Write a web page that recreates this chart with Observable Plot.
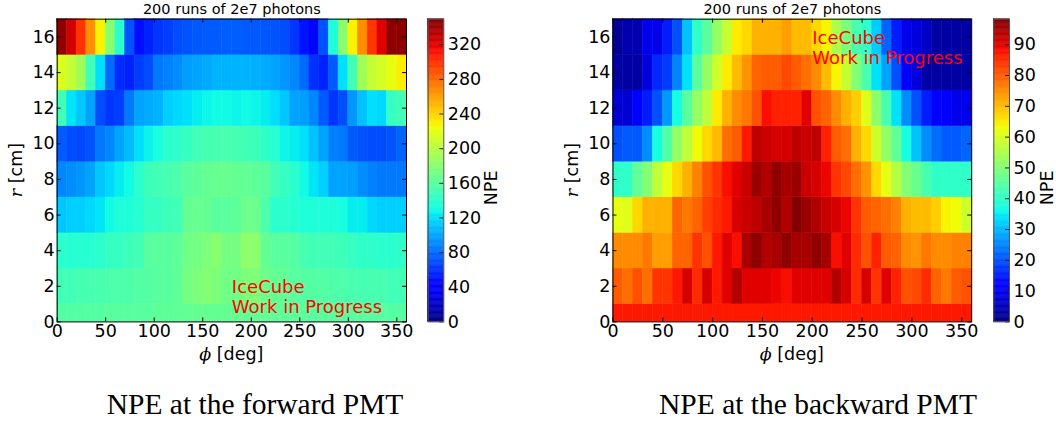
<!DOCTYPE html>
<html>
<head>
<meta charset="utf-8">
<script src="https://cdn.jsdelivr.net/npm/d3@7"></script>
<script src="https://cdn.jsdelivr.net/npm/@observablehq/plot@0.6"></script>
<style>
  html, body { margin: 0; padding: 0; background: #fff; }
  #root { position: relative; width: 1056px; height: 425px; overflow: hidden; }
  #root > svg, #root > div { position: absolute; }
  .cap { font-family: "Liberation Serif", "Times New Roman", serif; font-size: 29.5px; color: #000; white-space: nowrap; text-align: center; }
</style>
</head>
<body>
<div id="root"></div>
<script>
// ---------------- data ----------------
const phiBins = d3.range(0, 360, 10);            // lower edge of each 10-degree phi bin
const rEdges = [0, 1, 3, 5, 7, 9, 11, 13, 15, 17]; // r bin edges [cm]
const xTicks = [0, 50, 100, 150, 200, 250, 300, 350];
const yTicks = [0, 2, 4, 6, 8, 10, 12, 14, 16];
const fwdTicks = [0, 40, 80, 120, 160, 200, 240, 280, 320];
const bwdTicks = [0, 10, 20, 30, 40, 50, 60, 70, 80, 90];
const fwdMax = 349.5;
const bwdMax = 98.3;

// forward PMT NPE, rows from r=0-1 up to r=15-17, 36 phi bins each
const fwdR0 = [158,158,158,158,158,160,160,160,160,160,162,162,163,164,165,165,165,165,165,165,165,164,163,162,162,161,160,160,160,160,160,160,159,159,158,158];
const fwdR1 = [150,150,152,152,152,155,155,155,157,158,160,160,162,172,175,178,175,170,170,175,176,168,165,163,160,158,158,157,156,155,153,152,152,152,150,150];
const fwdR2 = [140,138,138,138,140,145,145,148,150,160,160,160,162,170,172,175,180,172,172,182,182,165,160,160,158,152,150,150,150,148,145,142,142,140,140,142];
const fwdR3 = [112,115,115,118,122,130,135,135,138,145,145,148,150,165,166,165,160,160,162,168,168,155,140,140,138,135,135,135,135,132,125,125,118,115,115,115];
const fwdR4 = [90,92,95,100,112,118,125,130,140,148,150,152,155,160,162,165,166,166,165,164,162,160,150,145,140,130,122,115,100,100,98,92,88,85,85,85];
const fwdR5 = [75,70,68,72,85,90,100,108,120,127,132,140,142,145,150,152,152,153,152,150,148,142,138,128,125,120,110,100,88,85,75,72,70,70,72,78];
const fwdR6 = [150,122,112,100,70,62,65,85,100,102,105,115,118,120,125,128,130,130,128,130,128,125,120,112,100,98,90,75,62,70,95,110,120,118,145,150];
const fwdR7 = [215,205,190,150,120,80,58,55,65,70,85,88,92,98,100,102,105,105,105,105,104,102,100,95,90,80,60,55,75,120,150,190,205,212,220,230];
const fwdR8 = [345,325,300,265,228,180,140,72,48,55,62,65,70,72,74,75,75,76,76,75,74,73,72,70,62,50,45,72,135,180,228,265,298,320,345,345];

// backward PMT NPE
const bwdR0 = [87,87,87,87,87,87,87,87,87,87,87,87,87,87,87,87,87,87,87,87,87,87,87,87,87,87,87,87,87,87,87,87,87,87,87,87];
const bwdR1 = [80,78,81,78,84,84,87,91,85,91,87,90,94,90,90,90,89,88,90,90,90,90,94,91,85,91,84,90,86,81,82,85,79,77,80,81];
const bwdR2 = [75,75,75,77,73,73,79,79,84,81,87,90,88,95,97,94,95,97,95,95,97,95,88,90,85,81,86,80,79,75,74,77,75,75,76,76];
const bwdR3 = [62,61,67,71,71,71,79,77,79,83,85,87,91,92,93,95,97,94,98,96,94,92,91,89,84,80,79,78,76,71,70,70,68,64,63,59];
const bwdR4 = [40,40,46,50,57,62,67,71,76,81,84,88,90,92,96,94,97,95,96,92,91,89,84,82,78,74,67,62,56,50,47,43,40,40,40,40];
const bwdR5 = [20,21,21,26,37,44,52,57,63,67,70,78,80,87,93,92,91,91,93,92,93,86,80,78,71,67,59,52,46,37,31,26,23,21,21,22];
const bwdR6 = [7,7,11,15,20,27,37,45,52,57,65,71,75,77,81,88,86,86,86,90,81,79,75,71,68,61,51,43,34,26,20,15,11,11,9,9];
const bwdR7 = [3,3,3,8,16,18,25,34,45,52,59,65,70,74,79,80,80,82,80,78,75,70,64,58,50,43,34,28,20,12,8,3,3,3,3,3];
const bwdR8 = [2,4,4,9,9,15,20,31,40,45,52,58,65,67,71,71,71,73,70,70,67,64,55,49,43,40,32,22,15,9,8,6,3,3,3,3];

const fwdRows = [fwdR0, fwdR1, fwdR2, fwdR3, fwdR4, fwdR5, fwdR6, fwdR7, fwdR8];
const bwdRows = [bwdR0, bwdR1, bwdR2, bwdR3, bwdR4, bwdR5, bwdR6, bwdR7, bwdR8];

// ---------------- helpers ----------------
function seg(t, pts) {
  if (t <= pts[0][0]) return pts[0][1];
  for (let i = 1; i < pts.length; i++) {
    if (t <= pts[i][0]) {
      const [x0, y0] = pts[i - 1], [x1, y1] = pts[i];
      return y0 + (y1 - y0) * (t - x0) / (x1 - x0);
    }
  }
  return pts[pts.length - 1][1];
}
function jet(t) {
  t = Math.max(0, Math.min(1, t));
  const r = seg(t, [[0,0],[0.35,0],[0.66,1],[0.89,1],[1,0.5]]);
  const g = seg(t, [[0,0],[0.125,0],[0.375,1],[0.64,1],[0.91,0],[1,0]]);
  const b = seg(t, [[0,0.5],[0.11,1],[0.34,1],[0.65,0],[1,0]]);
  return `rgb(${Math.round(r*255)},${Math.round(g*255)},${Math.round(b*255)})`;
}

function cells(rows) {
  const out = [];
  rows.forEach((vals, i) => {
    vals.forEach((v, j) => out.push({phi0: phiBins[j], phi1: phiBins[j] + 10, r0: rEdges[i], r1: rEdges[i + 1], v}));
  });
  return out;
}

const FONT = "DejaVu Sans";
const TICK_FS = 17.5;
const H = 370, MT = 18.7, MB = 48.6; // plot area y 18.7 .. 321.4

function heatmap({rows, max, left, width, ml, mr, textX, textY}) {
  const data = cells(rows);
  const pw = width - ml - mr;
  const ph = H - MT - MB;
  const tx = 4 * 360 / pw, ty = 4 * 17 / ph;
  const p = Plot.plot({
    width, height: H,
    marginLeft: ml, marginRight: mr, marginTop: MT, marginBottom: MB,
    style: {fontFamily: FONT, background: "transparent", overflow: "visible"},
    x: {domain: [0, 360]},
    y: {domain: [0, 17]},
    color: {type: "linear", domain: [0, max], interpolate: (t) => jet(t)},
    marks: [
      Plot.rect(data, {x1: "phi0", x2: "phi1", y1: "r0", y2: "r1", fill: "v", stroke: "v", strokeWidth: 0.5}),
      Plot.ruleX(xTicks, {x: d => d, y1: 0, y2: ty, stroke: "black", strokeWidth: 1}),
      Plot.ruleX(xTicks, {x: d => d, y1: 17, y2: 17 - ty, stroke: "black", strokeWidth: 1}),
      Plot.ruleY(yTicks, {y: d => d, x1: 0, x2: tx, stroke: "black", strokeWidth: 1}),
      Plot.ruleY(yTicks, {y: d => d, x1: 360, x2: 360 - tx, stroke: "black", strokeWidth: 1}),
      Plot.frame({stroke: "black", strokeWidth: 1}),
      Plot.axisX({ticks: xTicks, tickSize: 0, tickPadding: 3, fontSize: TICK_FS, label: null, fill: "black"}),
      Plot.axisY({ticks: yTicks, tickSize: 0, tickPadding: 2.5, fontSize: TICK_FS, label: null, fill: "black"}),
      Plot.text(["200 runs of 2e7 photons"], {frameAnchor: "top", dy: -5, lineAnchor: "bottom", fontSize: 14.5, fill: "black"}),
      Plot.text(["IceCube\nWork in Progress"], {x: textX, y: textY, textAnchor: "start", lineAnchor: "bottom", lineHeight: 1.11, fontSize: 18, fill: "red"})
    ]
  });
  p.style.left = left + "px";
  p.style.top = "0px";
  const svg = d3.select(p);
  // y label: r [cm] with italic r
  const yl = svg.append("text")
    .attr("transform", `translate(${ml - 39.5},${MT + ph / 2}) rotate(-90)`)
    .attr("text-anchor", "middle").attr("dominant-baseline", "middle")
    .attr("font-family", FONT).attr("font-size", TICK_FS).attr("fill", "black");
  yl.append("tspan").attr("font-style", "italic").attr("font-family", "DejaVu Serif").text("r");
  yl.append("tspan").text(" [cm]");
  // x label: phi [deg] with italic phi
  const xl = svg.append("text")
    .attr("x", ml + pw / 2).attr("y", H - 10)
    .attr("text-anchor", "middle")
    .attr("font-family", FONT).attr("font-size", TICK_FS).attr("fill", "black");
  xl.append("tspan").attr("font-style", "italic").attr("font-family", "DejaVu Serif").text("ϕ");
  xl.append("tspan").text(" [deg]");
  return p;
}

function colorbar({max, ticks, left, width, ml, bw, labelDx}) {
  const steps = d3.range(0, 256).map(i => ({a: i * max / 256, b: (i + 1) * max / 256}));
  const ph = H - MT - MB;
  const p = Plot.plot({
    width, height: H,
    marginLeft: ml, marginRight: width - ml - bw, marginTop: MT, marginBottom: MB,
    style: {fontFamily: FONT, background: "transparent", overflow: "visible"},
    x: {domain: [0, 1], axis: null},
    y: {domain: [0, max]},
    color: {type: "linear", domain: [0, max], interpolate: (t) => jet(t)},
    marks: [
      Plot.rect(steps, {x1: 0, x2: 1, y1: "a", y2: "b", fill: d => (d.a + d.b) / 2, stroke: d => (d.a + d.b) / 2, strokeWidth: 0.5}),
      Plot.ruleY(ticks, {y: d => d, x1: 1, x2: 1 - 4 / bw, stroke: "#222", strokeWidth: 1}),
      Plot.frame({stroke: "#555", strokeWidth: 1}),
      Plot.axisY({anchor: "right", ticks, tickSize: 0, tickPadding: 4, fontSize: TICK_FS, label: null, fill: "black"}),
      Plot.text(["NPE"], {frameAnchor: "right", dx: labelDx, rotate: -90, fontSize: TICK_FS, fill: "black"})
    ]
  });
  p.style.left = left + "px";
  p.style.top = "0px";
  return p;
}

const root = document.getElementById("root");
root.append(heatmap({rows: fwdRows, max: fwdMax, left: 0, width: 420, ml: 56.7, mr: 14, textX: 180, textY: 0.48}));
root.append(colorbar({max: fwdMax, ticks: fwdTicks, left: 420, width: 100, ml: 7.7, bw: 15.6, labelDx: 47.5}));
root.append(heatmap({rows: bwdRows, max: bwdMax, left: 556, width: 430, ml: 56.5, mr: 14.8, textX: 200, textY: 14.5}));
root.append(colorbar({max: bwdMax, ticks: bwdTicks, left: 986, width: 70, ml: 7.3, bw: 15.7, labelDx: 38}));

function caption(text, cx) {
  const d = document.createElement("div");
  d.className = "cap";
  d.textContent = text;
  d.style.left = (cx - 250) + "px";
  d.style.width = "500px";
  d.style.top = "387px";
  d.style.lineHeight = "34px";
  root.append(d);
}
caption("NPE at the forward PMT", 255);
caption("NPE at the backward PMT", 818);
</script>
</body>
</html>
